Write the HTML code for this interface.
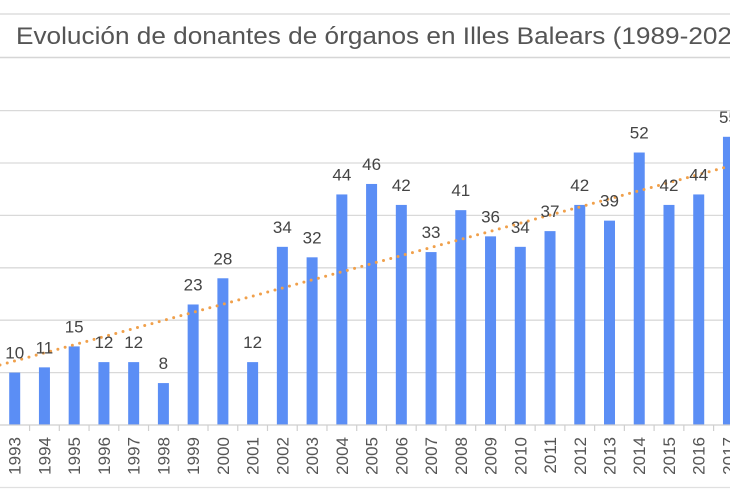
<!DOCTYPE html>
<html><head><meta charset="utf-8"><style>
html,body{margin:0;padding:0;background:#fff;width:730px;height:500px;overflow:hidden}
svg{display:block}
text{font-family:"Liberation Sans",Arial,sans-serif}
.v{font-size:17px;fill:#444;text-anchor:middle}
.y{font-size:17px;fill:#555;text-anchor:end}
</style></head><body>
<svg width="730" height="500" viewBox="0 0 730 500" xmlns="http://www.w3.org/2000/svg">
<rect width="730" height="500" fill="#fff"/>
<line x1="0" y1="14" x2="730" y2="14" stroke="#dedede" stroke-width="1.5"/>
<line x1="0" y1="57.5" x2="730" y2="57.5" stroke="#d6d6d6" stroke-width="1.5"/>
<text x="16" y="44" font-size="24" fill="#555" textLength="716" lengthAdjust="spacingAndGlyphs">Evolución de donantes de órganos en Illes Balears (1989-202</text>
<g stroke="#d9d9d9" stroke-width="1.3">
<line x1="0" y1="110.6" x2="730" y2="110.6"/>
<line x1="0" y1="163" x2="730" y2="163"/>
<line x1="0" y1="215.4" x2="730" y2="215.4"/>
<line x1="0" y1="267.8" x2="730" y2="267.8"/>
<line x1="0" y1="320.2" x2="730" y2="320.2"/>
<line x1="0" y1="372.6" x2="730" y2="372.6"/>
</g>
<line x1="0" y1="487.5" x2="730" y2="487.5" stroke="#e0e0e0" stroke-width="1.3"/>
<g fill="#5b8ef5">
<rect x="9.20" y="372.6" width="11" height="52.4"/>
<rect x="38.94" y="367.36" width="11" height="57.64"/>
<rect x="68.68" y="346.4" width="11" height="78.6"/>
<rect x="98.42" y="362.12" width="11" height="62.88"/>
<rect x="128.16" y="362.12" width="11" height="62.88"/>
<rect x="157.90" y="383.08" width="11" height="41.92"/>
<rect x="187.64" y="304.48" width="11" height="120.52"/>
<rect x="217.38" y="278.28" width="11" height="146.72"/>
<rect x="247.12" y="362.12" width="11" height="62.88"/>
<rect x="276.86" y="246.84" width="11" height="178.16"/>
<rect x="306.60" y="257.32" width="11" height="167.68"/>
<rect x="336.34" y="194.44" width="11" height="230.56"/>
<rect x="366.08" y="183.96" width="11" height="241.04"/>
<rect x="395.82" y="204.92" width="11" height="220.08"/>
<rect x="425.56" y="252.08" width="11" height="172.92"/>
<rect x="455.30" y="210.16" width="11" height="214.84"/>
<rect x="485.04" y="236.36" width="11" height="188.64"/>
<rect x="514.78" y="246.84" width="11" height="178.16"/>
<rect x="544.52" y="231.12" width="11" height="193.88"/>
<rect x="574.26" y="204.92" width="11" height="220.08"/>
<rect x="604.00" y="220.64" width="11" height="204.36"/>
<rect x="633.74" y="152.52" width="11" height="272.48"/>
<rect x="663.48" y="204.92" width="11" height="220.08"/>
<rect x="693.22" y="194.44" width="11" height="230.56"/>
<rect x="722.96" y="136.8" width="11" height="288.2"/>
</g>
<line x1="0" y1="425" x2="730" y2="425" stroke="#cfcfcf" stroke-width="1.3"/>
<g stroke="#cfcfcf" stroke-width="1.2">
<line x1="29.57" y1="425" x2="29.57" y2="431"/>
<line x1="59.31" y1="425" x2="59.31" y2="431"/>
<line x1="89.05" y1="425" x2="89.05" y2="431"/>
<line x1="118.79" y1="425" x2="118.79" y2="431"/>
<line x1="148.53" y1="425" x2="148.53" y2="431"/>
<line x1="178.27" y1="425" x2="178.27" y2="431"/>
<line x1="208.01" y1="425" x2="208.01" y2="431"/>
<line x1="237.75" y1="425" x2="237.75" y2="431"/>
<line x1="267.49" y1="425" x2="267.49" y2="431"/>
<line x1="297.23" y1="425" x2="297.23" y2="431"/>
<line x1="326.97" y1="425" x2="326.97" y2="431"/>
<line x1="356.71" y1="425" x2="356.71" y2="431"/>
<line x1="386.45" y1="425" x2="386.45" y2="431"/>
<line x1="416.19" y1="425" x2="416.19" y2="431"/>
<line x1="445.93" y1="425" x2="445.93" y2="431"/>
<line x1="475.67" y1="425" x2="475.67" y2="431"/>
<line x1="505.41" y1="425" x2="505.41" y2="431"/>
<line x1="535.15" y1="425" x2="535.15" y2="431"/>
<line x1="564.89" y1="425" x2="564.89" y2="431"/>
<line x1="594.63" y1="425" x2="594.63" y2="431"/>
<line x1="624.37" y1="425" x2="624.37" y2="431"/>
<line x1="654.11" y1="425" x2="654.11" y2="431"/>
<line x1="683.85" y1="425" x2="683.85" y2="431"/>
<line x1="713.59" y1="425" x2="713.59" y2="431"/>
</g>
<line x1="0" y1="365" x2="730" y2="166" stroke="#f0a04b" stroke-width="3" stroke-linecap="round" stroke-dasharray="0 7.5"/>
<g>
<text class="v" x="14.70" y="358.6">10</text>
<text class="v" x="44.44" y="353.36">11</text>
<text class="v" x="74.18" y="332.4">15</text>
<text class="v" x="103.92" y="348.12">12</text>
<text class="v" x="133.66" y="348.12">12</text>
<text class="v" x="163.40" y="369.08">8</text>
<text class="v" x="193.14" y="290.48">23</text>
<text class="v" x="222.88" y="264.28">28</text>
<text class="v" x="252.62" y="348.12">12</text>
<text class="v" x="282.36" y="232.84">34</text>
<text class="v" x="312.10" y="243.32">32</text>
<text class="v" x="341.84" y="180.44">44</text>
<text class="v" x="371.58" y="169.96">46</text>
<text class="v" x="401.32" y="190.92">42</text>
<text class="v" x="431.06" y="238.08">33</text>
<text class="v" x="460.80" y="196.16">41</text>
<text class="v" x="490.54" y="222.36">36</text>
<text class="v" x="520.28" y="232.84">34</text>
<text class="v" x="550.02" y="217.12">37</text>
<text class="v" x="579.76" y="190.92">42</text>
<text class="v" x="609.50" y="206.64">39</text>
<text class="v" x="639.24" y="138.52">52</text>
<text class="v" x="668.98" y="190.92">42</text>
<text class="v" x="698.72" y="180.44">44</text>
<text class="v" x="728.46" y="122.8">55</text>
</g>
<g>
<text class="y" transform="translate(20.7,437) rotate(-90)">1993</text>
<text class="y" transform="translate(50.44,437) rotate(-90)">1994</text>
<text class="y" transform="translate(80.18,437) rotate(-90)">1995</text>
<text class="y" transform="translate(109.92,437) rotate(-90)">1996</text>
<text class="y" transform="translate(139.66,437) rotate(-90)">1997</text>
<text class="y" transform="translate(169.40,437) rotate(-90)">1998</text>
<text class="y" transform="translate(199.14,437) rotate(-90)">1999</text>
<text class="y" transform="translate(228.88,437) rotate(-90)">2000</text>
<text class="y" transform="translate(258.62,437) rotate(-90)">2001</text>
<text class="y" transform="translate(288.36,437) rotate(-90)">2002</text>
<text class="y" transform="translate(318.10,437) rotate(-90)">2003</text>
<text class="y" transform="translate(347.84,437) rotate(-90)">2004</text>
<text class="y" transform="translate(377.58,437) rotate(-90)">2005</text>
<text class="y" transform="translate(407.32,437) rotate(-90)">2006</text>
<text class="y" transform="translate(437.06,437) rotate(-90)">2007</text>
<text class="y" transform="translate(466.80,437) rotate(-90)">2008</text>
<text class="y" transform="translate(496.54,437) rotate(-90)">2009</text>
<text class="y" transform="translate(526.28,437) rotate(-90)">2010</text>
<text class="y" transform="translate(556.02,437) rotate(-90)">2011</text>
<text class="y" transform="translate(585.76,437) rotate(-90)">2012</text>
<text class="y" transform="translate(615.50,437) rotate(-90)">2013</text>
<text class="y" transform="translate(645.24,437) rotate(-90)">2014</text>
<text class="y" transform="translate(674.98,437) rotate(-90)">2015</text>
<text class="y" transform="translate(704.72,437) rotate(-90)">2016</text>
<text class="y" transform="translate(734.46,437) rotate(-90)">2017</text>
</g>
</svg>
</body></html>
